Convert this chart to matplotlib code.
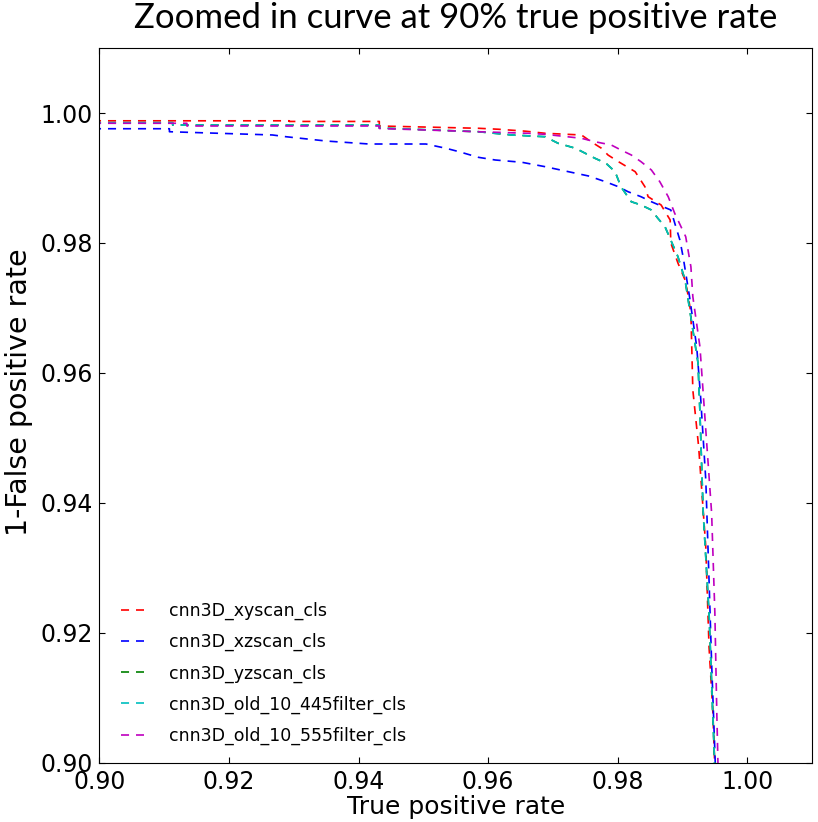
import matplotlib
matplotlib.use('Agg')
import matplotlib.pyplot as plt

# ROC curves, zoomed in (true positive rate vs 1 - false positive rate)
labels = ['cnn3D_xyscan_cls', 'cnn3D_xzscan_cls', 'cnn3D_yzscan_cls',
          'cnn3D_old_10_445filter_cls', 'cnn3D_old_10_555filter_cls']
colors = ['#ff0000', '#0000ff', '#008000', '#00bfbf', '#bf00bf']

xy_tpr = [0.8990, 0.9293, 0.9293, 0.9432, 0.9432, 0.9585, 0.9616, 0.9658, 0.9688, 0.9744,
          0.9759, 0.9775, 0.9785, 0.9801, 0.9827, 0.9842, 0.9847, 0.9867, 0.9881, 0.9882,
          0.9893, 0.9904, 0.9908, 0.9913, 0.9916, 0.9925, 0.9936, 0.9941, 0.9947, 0.9950]
xy_spec = [0.9988, 0.9988, 0.9987, 0.9987, 0.9980, 0.99765, 0.9975, 0.9972, 0.99688, 0.99662,
           0.99558, 0.99457, 0.99354, 0.99252, 0.99097, 0.98866, 0.98712, 0.98585, 0.98354, 0.9800,
           0.97692, 0.97431, 0.97231, 0.96923, 0.95738, 0.94862, 0.93323, 0.91785, 0.90769, 0.8990]

xz_tpr = [0.8990, 0.9108, 0.9108, 0.9155, 0.9267, 0.9288, 0.9350, 0.9416, 0.9504, 0.9535,
          0.9555, 0.9585, 0.9611, 0.9652, 0.9688, 0.9724, 0.9755, 0.9781, 0.9801, 0.9816,
          0.9836, 0.9852, 0.9870, 0.9882, 0.9888, 0.9896, 0.9901, 0.9905, 0.9911, 0.9922,
          0.9928, 0.9936, 0.9941, 0.9945, 0.9951]
xz_spec = [0.99758, 0.99758, 0.99712, 0.99697, 0.99662, 0.99635, 0.99569, 0.99523, 0.99523, 0.99457,
           0.99405, 0.99318, 0.99277, 0.99242, 0.99174, 0.99097, 0.99031, 0.98943, 0.98866, 0.98789,
           0.98712, 0.98635, 0.98558, 0.98508, 0.98308, 0.98046, 0.97785, 0.97538, 0.97169, 0.96400,
           0.95631, 0.94354, 0.92815, 0.91538, 0.8990]

f445_tpr = [0.8990, 0.9113, 0.9113, 0.9432, 0.9432, 0.9585, 0.9636, 0.9688, 0.9708, 0.9735,
            0.9750, 0.9765, 0.9782, 0.9796, 0.9805, 0.9821, 0.9836, 0.9852, 0.9862, 0.9873,
            0.9893, 0.9904, 0.9924, 0.9927, 0.9932, 0.9941, 0.9950]
f445_spec = [0.99851, 0.99851, 0.99815, 0.99815, 0.99769, 0.99712, 0.99662, 0.99635, 0.99534, 0.99457,
             0.99380, 0.99303, 0.99226, 0.99097, 0.98866, 0.98635, 0.98585, 0.98508, 0.98380, 0.98251,
             0.97789, 0.97431, 0.96154, 0.95385, 0.93846, 0.92308, 0.8990]

# yz scan curve sits underneath the 445 filter curve
yz_tpr = f445_tpr
yz_spec = f445_spec

f555_tpr = [0.8990, 0.9135, 0.9135, 0.9432, 0.9432, 0.9585, 0.9662, 0.9688, 0.9744, 0.9765,
            0.9790, 0.9805, 0.9821, 0.9836, 0.9852, 0.9865, 0.9878, 0.9888, 0.9905, 0.9913,
            0.9916, 0.9927, 0.9936, 0.9945, 0.9950, 0.9953, 0.9955]
f555_spec = [0.99842, 0.99842, 0.99800, 0.99800, 0.99762, 0.99712, 0.99688, 0.99672, 0.99611, 0.99558,
             0.99508, 0.99431, 0.99354, 0.99251, 0.99123, 0.98943, 0.98712, 0.98457, 0.98097, 0.97635,
             0.97174, 0.96400, 0.95123, 0.93846, 0.92308, 0.90769, 0.8990]

curves = [(xy_tpr, xy_spec), (xz_tpr, xz_spec), (yz_tpr, yz_spec),
          (f445_tpr, f445_spec), (f555_tpr, f555_spec)]

plt.rcParams['font.family'] = ['DejaVu Sans']
plt.rcParams['lines.scale_dashes'] = False

fig = plt.figure(figsize=(8.18, 8.22), dpi=100)
ax = fig.add_axes([0.1216, 0.0718, 0.8711, 0.8698])

for (tpr, spec), lab, col in zip(curves, labels, colors):
    ax.plot(tpr, spec, color=col, lw=1.2, linestyle=(0, (5.8, 5.0)), label=lab)

ax.set_xlim(0.90, 1.01)
ax.set_ylim(0.90, 1.01)
ax.set_xticks([0.90, 0.92, 0.94, 0.96, 0.98, 1.00])
ax.set_yticks([0.90, 0.92, 0.94, 0.96, 0.98, 1.00])
ax.tick_params(direction='in', top=True, right=True, length=4, pad=5, labelsize=17)
ax.set_xlabel('True positive rate', fontsize=18, labelpad=1)
ax.set_ylabel('1-False positive rate', fontsize=20.5)
ax.yaxis.set_label_coords(-0.093, 0.518)

fig.text(0.557, 0.978, 'Zoomed in curve at 90% true positive rate',
         ha='center', va='center', fontsize=25, family=['Lato', 'DejaVu Sans'])

ax.legend(loc='lower left', bbox_to_anchor=(0.03, 0.025), frameon=False,
          fontsize=12.5, handlelength=1.35, handletextpad=1.4, labelspacing=0.75,
          borderaxespad=0, borderpad=0)

fig.savefig('out.png', dpi=100)
